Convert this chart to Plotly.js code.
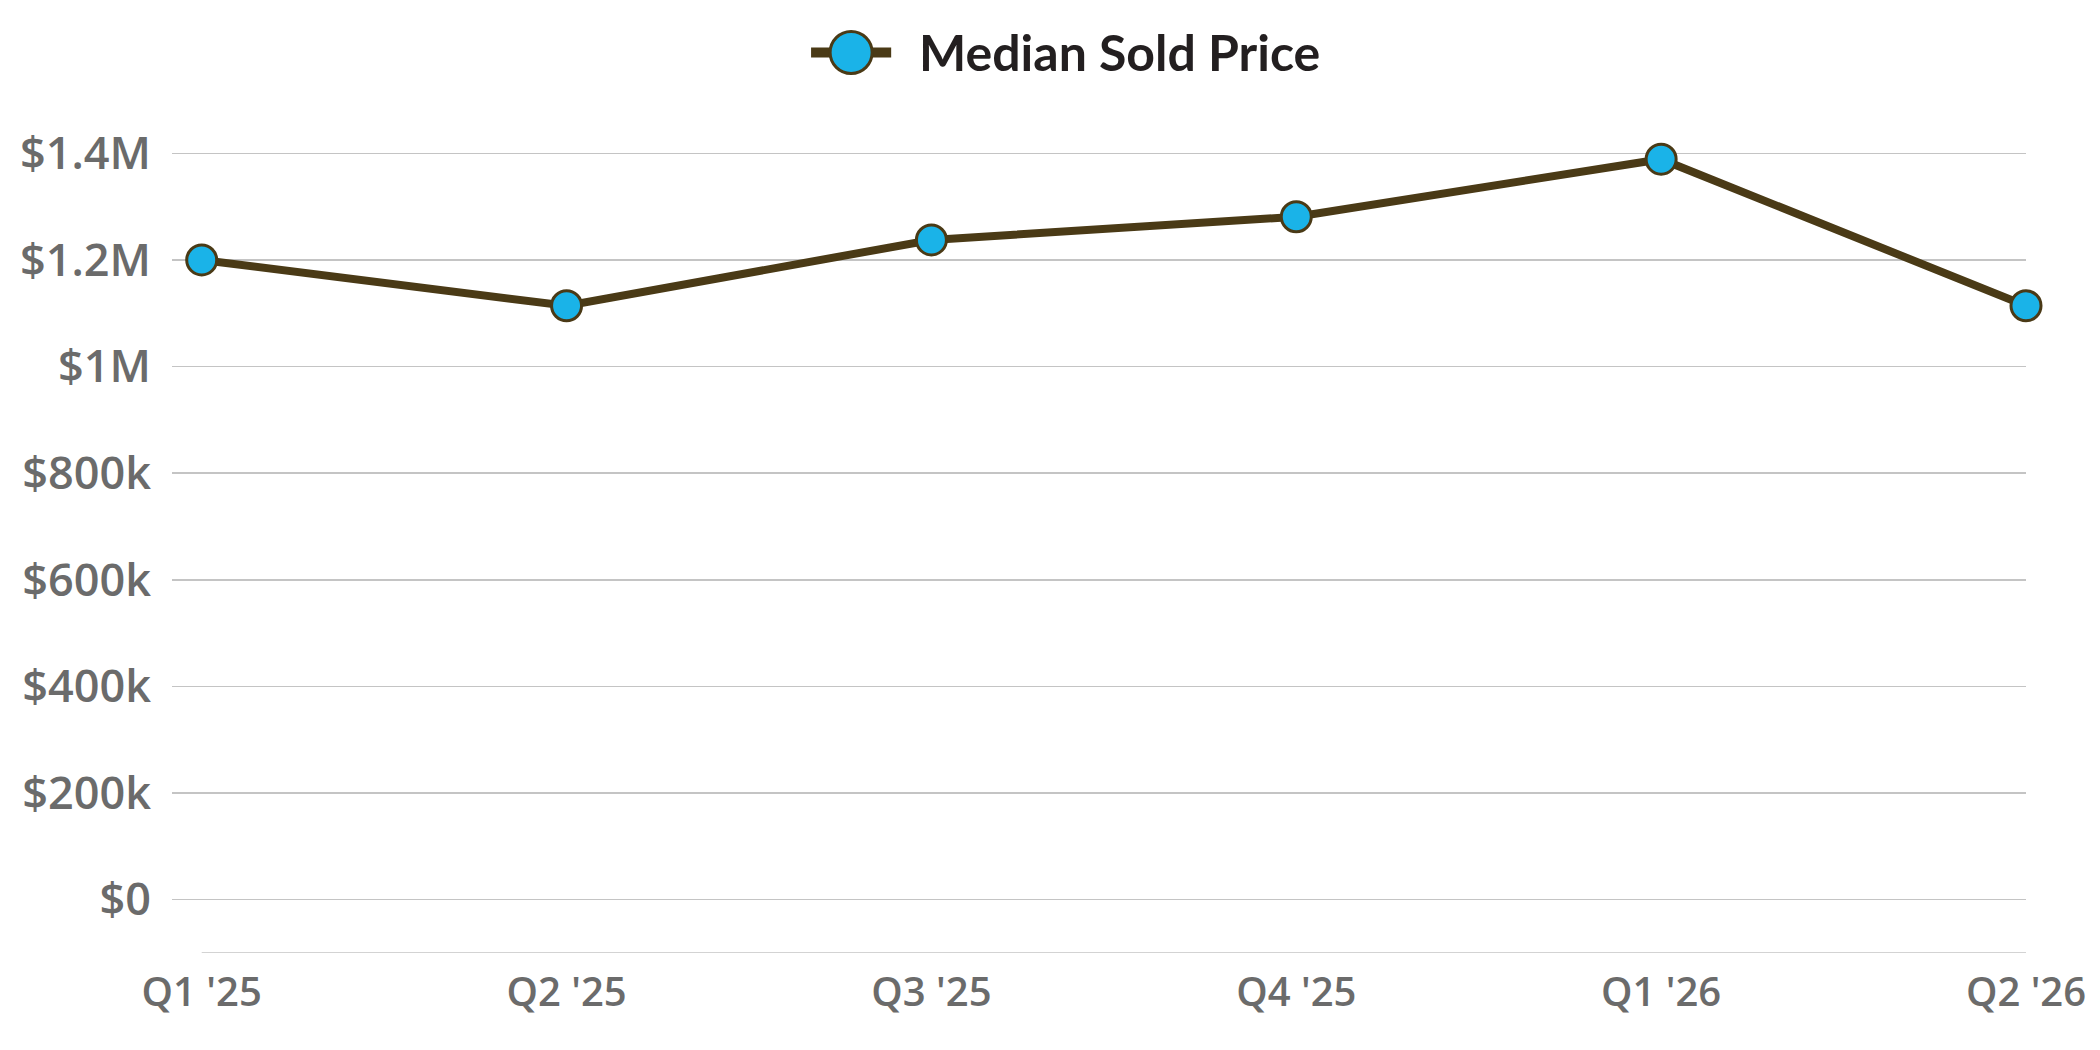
<!DOCTYPE html>
<html>
<head>
<meta charset="utf-8">
<script src="https://cdn.plot.ly/plotly-3.0.1.min.js"></script>
<style>
  html, body { margin: 0; padding: 0; background: #ffffff; }
  #chart { width: 2100px; height: 1050px; }
</style>
</head>
<body>
<div id="chart"></div>
<script>
const quarters = ["Q1 '25", "Q2 '25", "Q3 '25", "Q4 '25", "Q1 '26", "Q2 '26"];
const medianSoldPrice = [1200000, 1114000, 1237500, 1281000, 1389000, 1114000];
const yTickVals = [0, 200000, 400000, 600000, 800000, 1000000, 1200000, 1400000];
const yTickText = ["$0", "$200k", "$400k", "$600k", "$800k", "$1M", "$1.2M", "$1.4M"];
const seriesName = "Median Sold Price";

const lineColor = "#4a3a16";
const markerColor = "#1ab3e8";
const gridColor = "#c4c4c4";
const tickColor = "#6b6b6b";

const xIdx = quarters.map((q, i) => i);

const trace = {
  x: xIdx,
  y: medianSoldPrice,
  type: "scatter",
  mode: "lines+markers",
  name: seriesName,
  cliponaxis: false,
  line: { color: lineColor, width: 8 },
  marker: { size: 30, color: markerColor, line: { color: lineColor, width: 3 } },
  showlegend: false
};

const layout = {
  width: 2100,
  height: 1050,
  margin: { l: 172, r: 74, t: 100, b: 97 },
  paper_bgcolor: "#ffffff",
  plot_bgcolor: "#ffffff",
  showlegend: false,
  xaxis: {
    range: [-0.0814, quarters.length - 1],
    tickvals: xIdx,
    ticktext: quarters,
    showgrid: false,
    zeroline: false,
    showline: false,
    ticks: "",
    ticklabelstandoff: 12,
    tickfont: { family: "Open Sans", size: 40, color: tickColor, weight: 600 }
  },
  yaxis: {
    range: [-100000, 1500000],
    tickvals: yTickVals,
    ticktext: yTickText,
    showgrid: true,
    gridcolor: gridColor,
    gridwidth: 1.5,
    zeroline: false,
    showline: false,
    ticks: "",
    ticklabelstandoff: 20,
    tickfont: { family: "Open Sans", size: 45, color: tickColor, weight: 600 }
  },
  shapes: [
    { type: "line", xref: "x", yref: "y", x0: 0, x1: quarters.length - 1, y0: -100000, y1: -100000,
      line: { color: gridColor, width: 1.5 } },
    { type: "line", xref: "paper", yref: "paper", x0: 0.3447, x1: 0.3879, y0: 1.0557, y1: 1.0557,
      line: { color: lineColor, width: 10 } },
    { type: "circle", xref: "paper", yref: "paper", xsizemode: "pixel", ysizemode: "pixel",
      xanchor: 0.3663, yanchor: 1.0557, x0: -21, x1: 21, y0: -21, y1: 21,
      fillcolor: markerColor, line: { color: lineColor, width: 3 } }
  ],
  annotations: [
    { xref: "paper", yref: "paper", x: 0.4019, y: 1.0557, xanchor: "left", yanchor: "middle",
      text: seriesName, showarrow: false,
      font: { family: "Lato", size: 50, color: "#231f20", weight: 700 } }
  ]
};

Plotly.newPlot("chart", [trace], layout, { displayModeBar: false, staticPlot: true });
</script>
</body>
</html>
